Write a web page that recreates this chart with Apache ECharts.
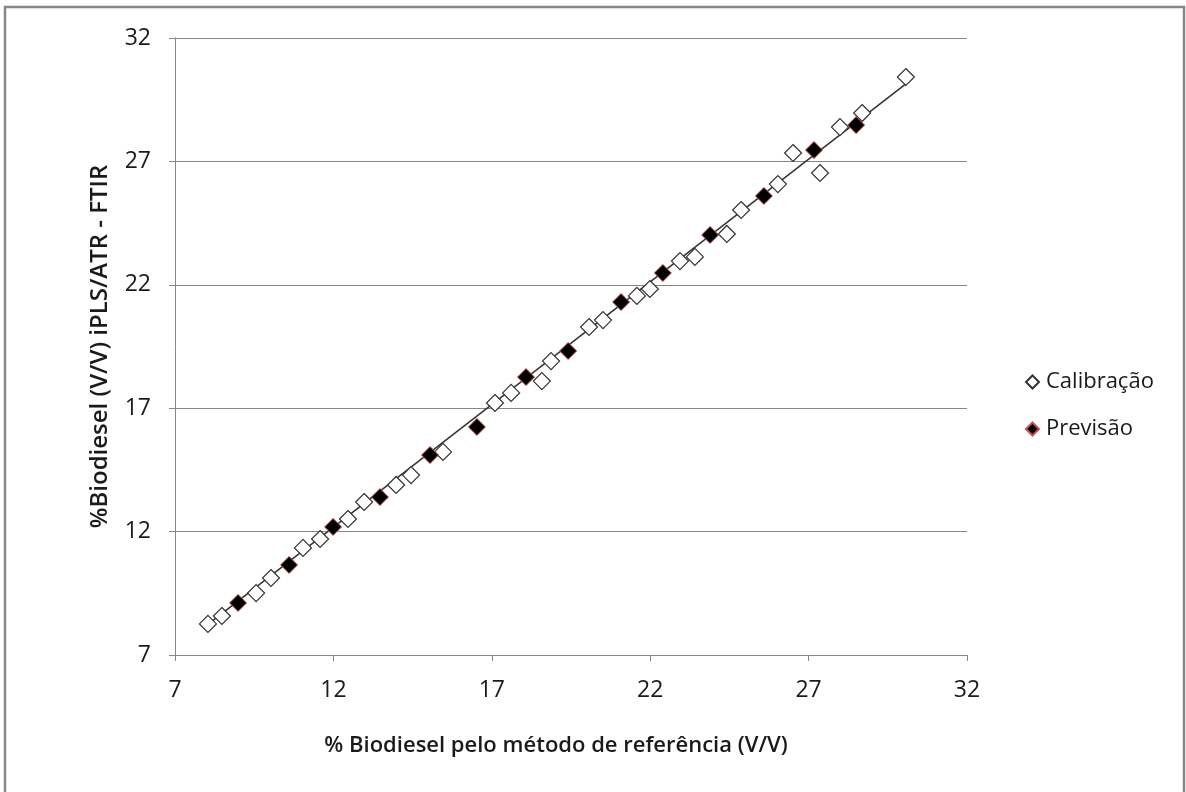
<!DOCTYPE html>
<html>
<head>
<meta charset="utf-8">
<script src="https://cdn.jsdelivr.net/npm/echarts@6/dist/echarts.min.js"></script>
<style>
html,body{margin:0;padding:0;background:#fff;}
#chart{width:1186px;height:792px;}
</style>
</head>
<body>
<div id="chart"></div>
<script>
// Calibration set: [reference %, predicted %]
const calibracao = [
  [8.04, 8.26], [8.48, 8.58], [9.56, 9.51], [10.03, 10.12], [11.04, 11.34],
  [11.58, 11.70], [12.46, 12.51], [12.97, 13.20], [13.98, 13.89], [14.45, 14.29],
  [15.46, 15.23], [17.10, 17.21], [17.61, 17.62], [18.58, 18.10], [18.87, 18.91],
  [20.07, 20.29], [20.51, 20.57], [21.58, 21.55], [21.99, 21.83], [22.94, 22.96],
  [23.41, 23.13], [24.42, 24.06], [24.87, 25.03], [26.03, 26.08], [26.51, 27.34],
  [27.36, 26.53], [27.99, 28.39], [28.69, 28.96], [30.07, 30.42]
];
// Prediction set: [reference %, predicted %]
const previsao = [
  [8.99, 9.11], [10.60, 10.65], [11.99, 12.19], [13.47, 13.40], [15.05, 15.10],
  [16.53, 16.24], [18.08, 18.26], [19.41, 19.32], [21.08, 21.30], [22.40, 22.48],
  [23.89, 24.02], [25.59, 25.60], [27.17, 27.46], [28.50, 28.47]
];
// Fitted line endpoints
const ajuste = [[8.08, 8.28], [30.05, 30.12]];
const axisMin = 7, axisMax = 32, axisStep = 5;

const font = 'Open Sans, Lato, sans-serif';
const chart = echarts.init(document.getElementById('chart'));
chart.setOption({
  animation: false,
  backgroundColor: '#fff',
  graphic: [{
    type: 'rect', shape: {x: 5, y: 7, width: 1179, height: 790},
    style: {fill: 'none', stroke: '#888', lineWidth: 2.5}
  }],
  grid: {left: 175, top: 38, right: 219, bottom: 137},
  xAxis: {
    type: 'value', min: axisMin, max: axisMax, interval: axisStep,
    name: '% Biodiesel pelo método de referência (V/V)',
    nameLocation: 'middle', nameGap: 80,
    nameTextStyle: {fontFamily: font, fontSize: 22, fontWeight: 600, color: '#1a1a1a', padding: [0, 30, 0, 0]},
    axisLine: {lineStyle: {color: '#868686', width: 1}},
    axisTick: {show: true, length: 6, lineStyle: {color: '#868686'}},
    axisLabel: {fontFamily: font, fontSize: 23, color: '#1a1a1a', margin: 24},
    splitLine: {show: false}
  },
  yAxis: {
    type: 'value', min: axisMin, max: axisMax, interval: axisStep,
    name: '%Biodiesel (V/V) iPLS/ATR - FTIR',
    nameLocation: 'middle', nameGap: 63, nameRotate: 90,
    nameTextStyle: {fontFamily: font, fontSize: 24, fontWeight: 600, color: '#1a1a1a'},
    axisLine: {show: true, lineStyle: {color: '#868686', width: 1}},
    axisTick: {show: true, length: 6, lineStyle: {color: '#868686'}},
    axisLabel: {fontFamily: font, fontSize: 23, color: '#1a1a1a', margin: 24},
    splitLine: {lineStyle: {color: '#868686', width: 1}}
  },
  legend: {
    orient: 'vertical', left: 1020, top: 366, itemGap: 25,
    itemWidth: 13, itemHeight: 13,
    textStyle: {fontFamily: font, fontSize: 22, color: '#1a1a1a', padding: [0, 0, 0, 2]},
    data: ['Calibração', 'Previsão']
  },
  series: [
    {
      name: 'Ajuste', type: 'line', data: ajuste, symbol: 'none',
      lineStyle: {color: '#333', width: 1.5}, z: 1, silent: true
    },
    {
      name: 'Calibração', type: 'scatter', data: calibracao,
      symbol: 'diamond', symbolSize: 17,
      itemStyle: {color: '#fff', borderColor: '#333', borderWidth: 1.2, opacity: 1},
      z: 2
    },
    {
      name: 'Previsão', type: 'scatter', data: previsao,
      symbol: 'diamond', symbolSize: 17,
      itemStyle: {color: '#000', borderColor: '#c85050', borderWidth: 1, opacity: 1},
      z: 3
    }
  ]
});
</script>
</body>
</html>
